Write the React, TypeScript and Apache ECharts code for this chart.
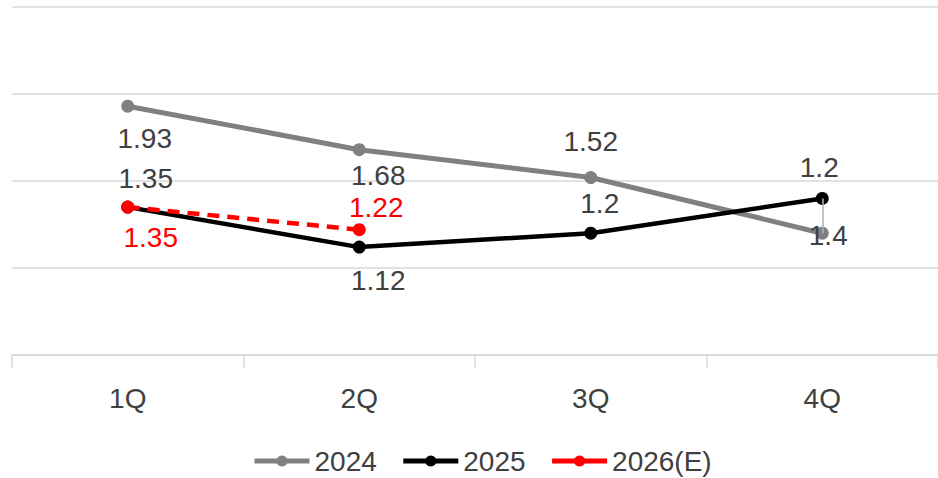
import React, { useEffect, useRef } from "react";
import * as echarts from "echarts";

const categories = ["1Q", "2Q", "3Q", "4Q"];
const series2024 = [1.93, 1.68, 1.52, 1.2];
const labels2024 = ["1.93", "1.68", "1.52", "1.4"];
const series2025 = [1.35, 1.12, 1.2, 1.4];
const labels2025 = ["1.35", "1.12", "1.2", "1.2"];
const series2026 = [1.35, 1.22];
const labels2026 = ["1.35", "1.22"];

// label offsets (px) relative to the point, for data-label placement
const offsets2024 = [[17, 32], [19, 26], [0, -36], [6, 2]];
const offsets2025 = [[18, -29], [19, 33], [9, -30], [-3, -31]];
const offsets2026 = [[23, 30], [17, -22]];

const FONT = "Liberation Sans";
const TXT = "#404040";

function buildData(vals: number[], labels: string[], offs: number[][], color: string) {
  return vals.map((v, i) => ({
    value: v,
    label: {
      show: true,
      position: "inside",
      offset: offs[i],
      formatter: () => labels[i],
      color,
      fontSize: 28,
      lineHeight: 28,
      fontFamily: FONT,
    },
  }));
}

export default function App() {
  const ref = useRef<HTMLDivElement>(null);
  useEffect(() => {
    if (!ref.current) return;
    const chart = echarts.init(ref.current, undefined, { renderer: "svg" });
    chart.setOption({
      animation: false,
      textStyle: { fontFamily: FONT },
      grid: { left: 12, top: 7, width: 932, height: 348, containLabel: false },
      legend: {
        top: 447,
        left: 252,
        padding: 0,
        itemWidth: 55,
        itemHeight: 14,
        itemGap: 24,
        lineStyle: { width: 5, type: "solid" },
        textStyle: { fontSize: 28, lineHeight: 28, color: TXT, fontFamily: FONT },
        data: ["2024", "2025", "2026(E)"],
      },
      xAxis: {
        type: "category",
        data: categories,
        boundaryGap: true,
        axisLine: { lineStyle: { color: "#d9d9d9", width: 1.5 } },
        axisTick: { show: true, length: 13, lineStyle: { color: "#d9d9d9", width: 1.5 } },
        axisLabel: { fontSize: 28, lineHeight: 28, color: TXT, margin: 29, fontFamily: FONT },
      },
      yAxis: {
        type: "value",
        min: 0.5,
        max: 2.5,
        interval: 0.5,
        axisLabel: { show: false },
        axisLine: { show: false },
        axisTick: { show: false },
        splitLine: { lineStyle: { color: "#d9d9d9", width: 1.5 } },
      },
      series: [
        {
          name: "2024",
          type: "line",
          data: buildData(series2024, labels2024, offsets2024, TXT),
          symbol: "circle",
          symbolSize: 13,
          itemStyle: { color: "#808080" },
          lineStyle: { color: "#808080", width: 5 },
          markLine: {
            silent: true,
            symbol: ["none", "none"],
            label: { show: false },
            lineStyle: { color: "#b0b0b0", width: 1.5, type: "solid" },
            data: [[{ coord: ["4Q", series2025[3]] }, { coord: ["4Q", series2024[3]] }]],
          },
        },
        {
          name: "2025",
          type: "line",
          data: buildData(series2025, labels2025, offsets2025, TXT),
          symbol: "circle",
          symbolSize: 13,
          itemStyle: { color: "#000000" },
          lineStyle: { color: "#000000", width: 4.5 },
        },
        {
          name: "2026(E)",
          type: "line",
          data: buildData(series2026, labels2026, offsets2026, "#ff0000"),
          symbol: "circle",
          symbolSize: 13,
          itemStyle: { color: "#ff0000" },
          lineStyle: { color: "#ff0000", width: 4.5, type: [12, 8] },
        },
      ],
    });
    return () => chart.dispose();
  }, []);
  return (
    <div
      ref={ref}
      style={{ position: "fixed", left: 0, top: 0, width: 938, height: 478, background: "#fff" }}
    />
  );
}
